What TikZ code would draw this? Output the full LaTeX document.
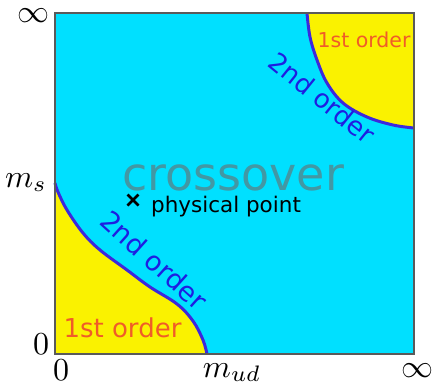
\documentclass[tikz,border=0pt]{standalone}
\usepackage{fontspec}
\newfontfamily\dejavu{DejaVu Sans}
\definecolor{cyanbg}{RGB}{0,224,255}
\definecolor{yellowreg}{RGB}{250,242,0}
\definecolor{orangetxt}{RGB}{240,92,40}
\definecolor{bluecurve}{RGB}{60,40,220}
\definecolor{bluetxt}{RGB}{30,30,225}
\definecolor{crosstxt}{RGB}{66,152,164}
\tikzset{
  lbl/.style={font=\dejavu},
  mathlbl/.style={font=\normalsize, scale=3.2, inner sep=0pt},
  curve/.style={draw=bluecurve, line width=3pt},
}
\begin{document}
\begin{tikzpicture}[x=1pt,y=-1pt]
\useasboundingbox (0,0) rectangle (435,386);
% background
\fill[cyanbg] (55,13) rectangle (414,354);
% lower-left yellow region
\fill[yellowreg] plot[smooth,tension=0.6] coordinates {(55,183) (58,192) (67,210) (83,233) (100,250) (127,270) (150,287) (177,304) (193,321) (203,340) (207,354)} -- (55,354) -- cycle;
% upper-right yellow region
\fill[yellowreg] plot[smooth,tension=0.6] coordinates {(307,13) (310,37) (317,60) (327,83) (343,103) (367,117) (393,125) (414,128)} -- (414,13) -- cycle;
% curves
\draw[curve] plot[smooth,tension=0.6] coordinates {(55,183) (58,192) (67,210) (83,233) (100,250) (127,270) (150,287) (177,304) (193,321) (203,340) (207,354)};
\draw[curve] plot[smooth,tension=0.6] coordinates {(307,13) (310,37) (317,60) (327,83) (343,103) (367,117) (393,125) (414,128)};
% frame
\draw[draw={rgb,255:red,90;green,90;blue,90}, line width=1.2pt] (55,13) rectangle (414,354);
% texts
\node[lbl, text=crosstxt, font=\dejavu\fontsize{46}{50}\selectfont, anchor=base] (cross) at (233,190) {crossover};
\node[lbl, text=black, font=\dejavu\fontsize{21.5}{24}\selectfont, anchor=base] (pp) at (226,212) {physical point};
\draw[line width=2.8pt] (127.5,194.5) -- (138.5,205.5) (127.5,205.5) -- (138.5,194.5);
\node[lbl, text=orangetxt, font=\dejavu\fontsize{26}{28}\selectfont, anchor=base] (fo1) at (122.5,337) {1st order};
\node[lbl, text=orangetxt, font=\dejavu\fontsize{20.5}{22}\selectfont, anchor=base] (fo2) at (364,47) {1st order};
\node[lbl, text=bluetxt, font=\dejavu\fontsize{26}{28}\selectfont, rotate=-39] (so1) at (322,98) {2nd order};
\node[lbl, text=bluetxt, font=\dejavu\fontsize{27}{29}\selectfont, rotate=-42] (so2) at (154,260) {2nd order};
% axis labels
\node[mathlbl] (inftop) at (33,16) {$\infty$};
\node[mathlbl] (infright) at (417,371) {$\infty$};
\node[mathlbl, anchor=base] (ms) at (26,187) {$m_s$};
\node[mathlbl] (zl) at (41,344) {$0$};
\node[mathlbl] (zb) at (61,370) {$0$};
\node[mathlbl, anchor=base] (mud) at (232,377) {$m_{ud}$};
\end{tikzpicture}
\end{document}
